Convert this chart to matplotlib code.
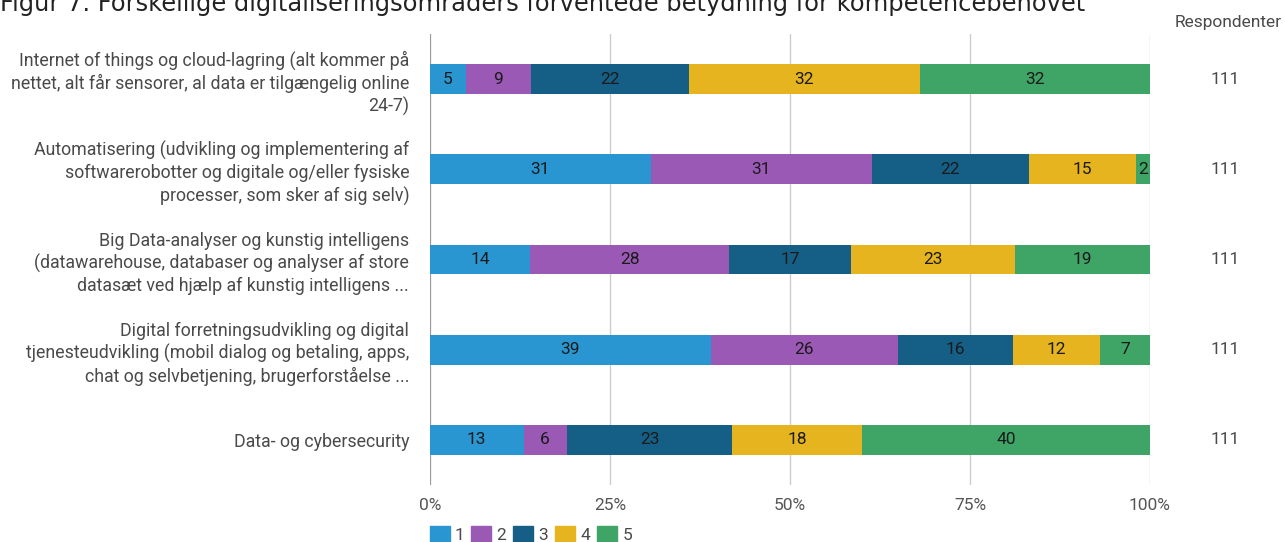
import numpy as np
import matplotlib.pyplot as plt
from matplotlib.patches import Patch
from matplotlib.transforms import blended_transform_factory

plt.rcParams['font.family'] = ['Roboto', 'DejaVu Sans']

title = "Figur 7. Forskellige digitaliseringsområders forventede betydning for kompetencebehovet"

categories = [
    "Internet of things og cloud-lagring (alt kommer på\nnettet, alt får sensorer, al data er tilgængelig online\n24-7)",
    "Automatisering (udvikling og implementering af\nsoftwarerobotter og digitale og/eller fysiske\nprocesser, som sker af sig selv)",
    "Big Data-analyser og kunstig intelligens\n(datawarehouse, databaser og analyser af store\ndatasæt ved hjælp af kunstig intelligens ...",
    "Digital forretningsudvikling og digital\ntjenesteudvikling (mobil dialog og betaling, apps,\nchat og selvbetjening, brugerforståelse ...",
    "Data- og cybersecurity",
]
series_names = ["1", "2", "3", "4", "5"]
s1 = [5, 31, 14, 39, 13]
s2 = [9, 31, 28, 26, 6]
s3 = [22, 22, 17, 16, 23]
s4 = [32, 15, 23, 12, 18]
s5 = [32, 2, 19, 7, 40]
respondents = [111, 111, 111, 111, 111]
ticks = [0, 25, 50, 75, 100]
tick_labels = ["0%", "25%", "50%", "75%", "100%"]

colors = ["#2a96d1", "#9b59b6", "#155f87", "#e5b41f", "#3ea566"]

vals = np.array([s1, s2, s3, s4, s5], dtype=float)
pct = vals / vals.sum(axis=0) * 100

fig = plt.figure(figsize=(12.85, 5.42), dpi=100)
ax = fig.add_axes([430/1285, 57/542, 720/1285, 451/542])

y = np.arange(len(categories))
left = np.zeros(len(categories))
for i in range(len(series_names)):
    ax.barh(y, pct[i], left=left, height=0.33, color=colors[i], zorder=3)
    for j in range(len(categories)):
        ax.text(left[j] + pct[i][j] / 2, y[j], str(int(vals[i][j])),
                ha='center', va='center', fontsize=12.5, color='#1a1a1a', zorder=4)
    left += pct[i]

ax.set_xlim(0, 100)
ax.set_ylim(4.5, -0.5)
for t in ticks:
    ax.axvline(t, color='#999999' if t == 0 else '#cccccc', lw=1.6 if t == 0 else 1, zorder=1)
for s in ax.spines.values():
    s.set_visible(False)
ax.set_xticks(ticks)
ax.set_xticklabels(tick_labels, color='#555555', fontsize=12.5)
ax.tick_params(axis='x', length=0, pad=9)
ax.set_yticks(y)
ax.set_yticklabels(categories, fontsize=12.8, color='#4a4a4a', linespacing=1.28)
ax.tick_params(axis='y', length=0, pad=15)

trans = blended_transform_factory(fig.transFigure, ax.transData)
for j in range(len(categories)):
    ax.text(1225/1285, y[j], str(respondents[j]), transform=trans,
            ha='center', va='center', fontsize=12.5, color='#4a4a4a')
fig.text(1228/1285, 1 - 22/542, "Respondenter", ha='center', va='center',
         fontsize=12.5, color='#4a4a4a')

fig.text(0.0, 1 - 11/542, title, ha='left', va='baseline', fontsize=17.4,
         family='DejaVu Sans', color='#222222')

handles = [Patch(facecolor=c, edgecolor=c) for c in colors]
fig.legend(handles, series_names, loc='lower left', bbox_to_anchor=(414/1285, -17/542),
           ncol=5, frameon=False, fontsize=12.5, handlelength=1.15, handleheight=1.15,
           handletextpad=0.3, columnspacing=0.4, labelcolor='#4a4a4a')

fig.savefig('out.png', dpi=100)
